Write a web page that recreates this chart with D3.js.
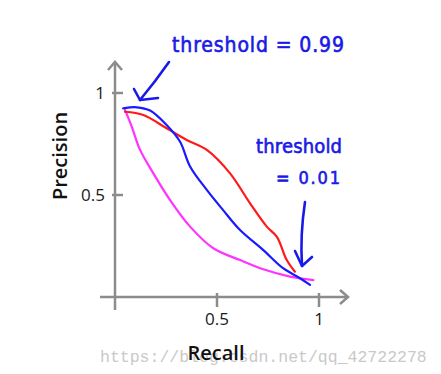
<!DOCTYPE html>
<html>
<head>
<meta charset="utf-8">
<script src="https://cdn.jsdelivr.net/npm/d3@7"></script>
<style>
  body { margin: 0; background: #fff; }
  svg { display: block; }
</style>
</head>
<body>
<div id="chart"></div>
<script>
// curves (recall, precision)
const bluePts = [[0.04,0.925],[0.107,0.93],[0.172,0.914],[0.253,0.843],[0.319,0.761],[0.368,0.64],[0.45,0.525],[0.53,0.426],[0.613,0.328],[0.727,0.23],[0.824,0.141],[0.907,0.092],[0.956,0.059]]
const redPts = [[0.049,0.908],[0.139,0.892],[0.253,0.827],[0.351,0.77],[0.45,0.721],[0.564,0.606],[0.662,0.459],[0.744,0.345],[0.793,0.296],[0.842,0.181],[0.882,0.124]]
const magentaPts = [[0.049,0.917],[0.082,0.835],[0.123,0.721],[0.188,0.606],[0.27,0.475],[0.368,0.345],[0.482,0.239],[0.613,0.181],[0.727,0.136],[0.858,0.1],[0.972,0.083]]
const tickVals = [0.5, 1]
const tickLabels = ["0.5", "1"]

const width = 441, height = 374
const svg = d3.select("#chart").append("svg")
    .attr("width", width)
    .attr("height", height)

const x = d3.scaleLinear().domain([0, 1]).range([115, 319])
const y = d3.scaleLinear().domain([0, 1]).range([297, 93])
const axisColor = "#8c8c8c"
const font = "Open Sans, sans-serif"

// axes
const ax = svg.append("g").attr("stroke", axisColor).attr("stroke-width", 2.5).attr("fill", "none")
ax.append("line").attr("x1", x(0)).attr("x2", x(0)).attr("y1", 310).attr("y2", 62)
ax.append("line").attr("x1", 100).attr("x2", 348).attr("y1", y(0)).attr("y2", y(0))
ax.append("path").attr("d", `M${x(0)-7},70 L${x(0)},62 L${x(0)+7},70`)
ax.append("path").attr("d", `M340,${y(0)-7} L348,${y(0)} L340,${y(0)+7}`)

tickVals.forEach((v, i) => {
    ax.append("line").attr("x1", x(0) - 3).attr("x2", x(0) + 8).attr("y1", y(v)).attr("y2", y(v))
    ax.append("line").attr("x1", x(v)).attr("x2", x(v)).attr("y1", y(0) - 4).attr("y2", y(0) + 10)
    svg.append("text").attr("x", x(0) - 10).attr("y", y(v)).attr("dy", "0.35em")
        .attr("text-anchor", "end").attr("font-family", font).attr("font-size", 17)
        .attr("fill", "#1a1a1a").text(tickLabels[i])
    svg.append("text").attr("x", x(v)).attr("y", 325)
        .attr("text-anchor", "middle").attr("font-family", font).attr("font-size", 17)
        .attr("fill", "#1a1a1a").text(tickLabels[i])
})

// watermark
svg.append("text").attr("x", 100).attr("y", 362)
    .attr("font-family", "Liberation Mono, monospace").attr("font-size", 16.5)
    .attr("fill", "#c9c9c9").text("https://blog.csdn.net/qq_42722278")

svg.append("text").attr("x", 216).attr("y", 360).attr("text-anchor", "middle")
    .attr("font-family", font).attr("font-size", 20).attr("font-weight", 600)
    .attr("fill", "#111").text("Recall")
svg.append("text").attr("transform", "translate(67,156) rotate(-90)").attr("text-anchor", "middle")
    .attr("font-family", font).attr("font-size", 20).attr("font-weight", 600)
    .attr("fill", "#111").text("Precision")

// curves
const line = d3.line().x(d => x(d[0])).y(d => y(d[1])).curve(d3.curveCatmullRom)
const series = [[magentaPts, "#ff33ff"], [redPts, "#ff1a1a"], [bluePts, "#1a1aff"]]
series.forEach(([pts, c]) => {
    svg.append("path").datum(pts).attr("d", line)
        .attr("fill", "none").attr("stroke", c).attr("stroke-width", 2.2)
        .attr("stroke-linecap", "round")
})

// handwritten annotations
const ink = "#1a1ae6"
const note = svg.append("g").attr("fill", ink).attr("stroke", ink).attr("stroke-width", 0.6)
    .attr("font-family", "DejaVu Sans Condensed, DejaVu Sans, sans-serif")
note.append("text").attr("x", 172).attr("y", 52).attr("font-size", 21).attr("textLength", 172).text("threshold = 0.99")
note.append("text").attr("x", 256).attr("y", 153).attr("font-size", 20).attr("textLength", 86).text("threshold")
note.append("text").attr("x", 276).attr("y", 184).attr("font-size", 18).attr("textLength", 64).text("= 0.01")

const arrows = svg.append("g").attr("stroke", ink).attr("stroke-width", 2.6).attr("fill", "none")
    .attr("stroke-linecap", "round").attr("stroke-linejoin", "round")
arrows.append("path").attr("d", "M169,62 Q155,82 140,100")
arrows.append("path").attr("d", "M134,89 L140,100 L158,98")
arrows.append("path").attr("d", "M305,202 Q300,235 302,266")
arrows.append("path").attr("d", "M295,251 L302,266 L312,257")
</script>
</body>
</html>
